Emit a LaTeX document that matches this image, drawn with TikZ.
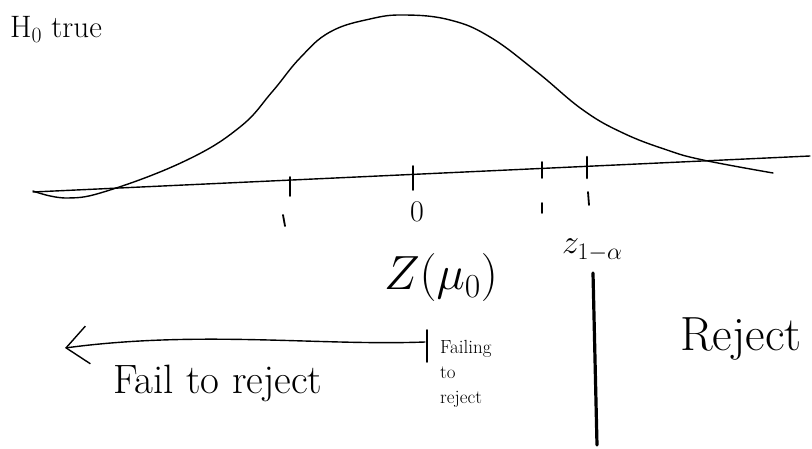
\RequirePackage{fix-cm}
\documentclass[tikz,border=0pt]{standalone}
\usepackage{fontspec}
\usetikzlibrary{arrows.meta}
\begin{document}
\begin{tikzpicture}[x=1pt,y=-1pt,
  ink/.style={line width=1.4pt,line cap=round,line join=round},
  tk/.style={line width=1.8pt,line cap=round},
  lbl/.style={inner sep=0pt,anchor=center}]
\useasboundingbox (0,0) rectangle (812,449);
% text
\node[lbl,anchor=base west,font=\fontsize{31}{34}\selectfont] (h0) at (10,38) {H$_0$ true};
% curve
\draw[ink] plot[smooth,tension=0.7] coordinates {(33,191) (67,198) (110,190) (187,160) (240,127) (272,92) (300,58) (330,32) (370,19) (405,15) (450,20) (490,37) (537,72) (583,110) (623,133) (667,150) (703,160) (773,173)};
% axis
\coordinate (al) at (33,192);
\coordinate (ar) at (810,156);
\draw[ink] (al) -- (ar);
% ticks
\draw[tk] (290,177) -- (290,196);
\draw[tk] (413,166) -- (413,190);
\draw[tk] (542,162) -- (542,178);
\draw[line width=2.6pt,line cap=round] (587,157) -- (587,178);
\draw[tk] (283,215) -- (285,226);
\draw[tk] (542,203) -- (542,213);
\draw[tk] (588,192) -- (589,205);
% labels
\node[lbl,font=\fontsize{30}{34}\selectfont] (zero) at (417,212) {0};
\node[lbl,anchor=base,font=\fontsize{48}{54}\selectfont] (zmu) at (441,290) {$Z(\mu_0)$};
\node[lbl,anchor=base west,font=\fontsize{34}{38}\selectfont] (zc) at (562,254) {$z_{1-\alpha}$};
% thick divider
\coordinate (dt) at (593,273);
\coordinate (db) at (597,445);
\draw[line width=3.2pt,line cap=round] (dt) -- (db);
% fail to reject arrow
\coordinate (bt) at (427,330);
\coordinate (bb) at (427,362);
\coordinate (as) at (425,342);
\coordinate (ae) at (65,348);
\draw[tk] (bt) -- (bb);
\draw[ink,-{Straight Barb[length=22pt,width=38pt,line width=1.4pt]}] (as) .. controls (320,346) and (200,330) .. (ae);
\node[lbl,anchor=base west,font=\fontsize{41}{45}\selectfont] (ftr) at (113,393) {Fail to reject};
\node[lbl,align=left,anchor=north west,font=\fontsize{19}{25}\selectfont] (fing) at (440,340) {Failing\\to\\reject};
\node[lbl,anchor=base west,font=\fontsize{48}{52}\selectfont] (rej) at (680,350) {Reject};
\end{tikzpicture}
\end{document}
